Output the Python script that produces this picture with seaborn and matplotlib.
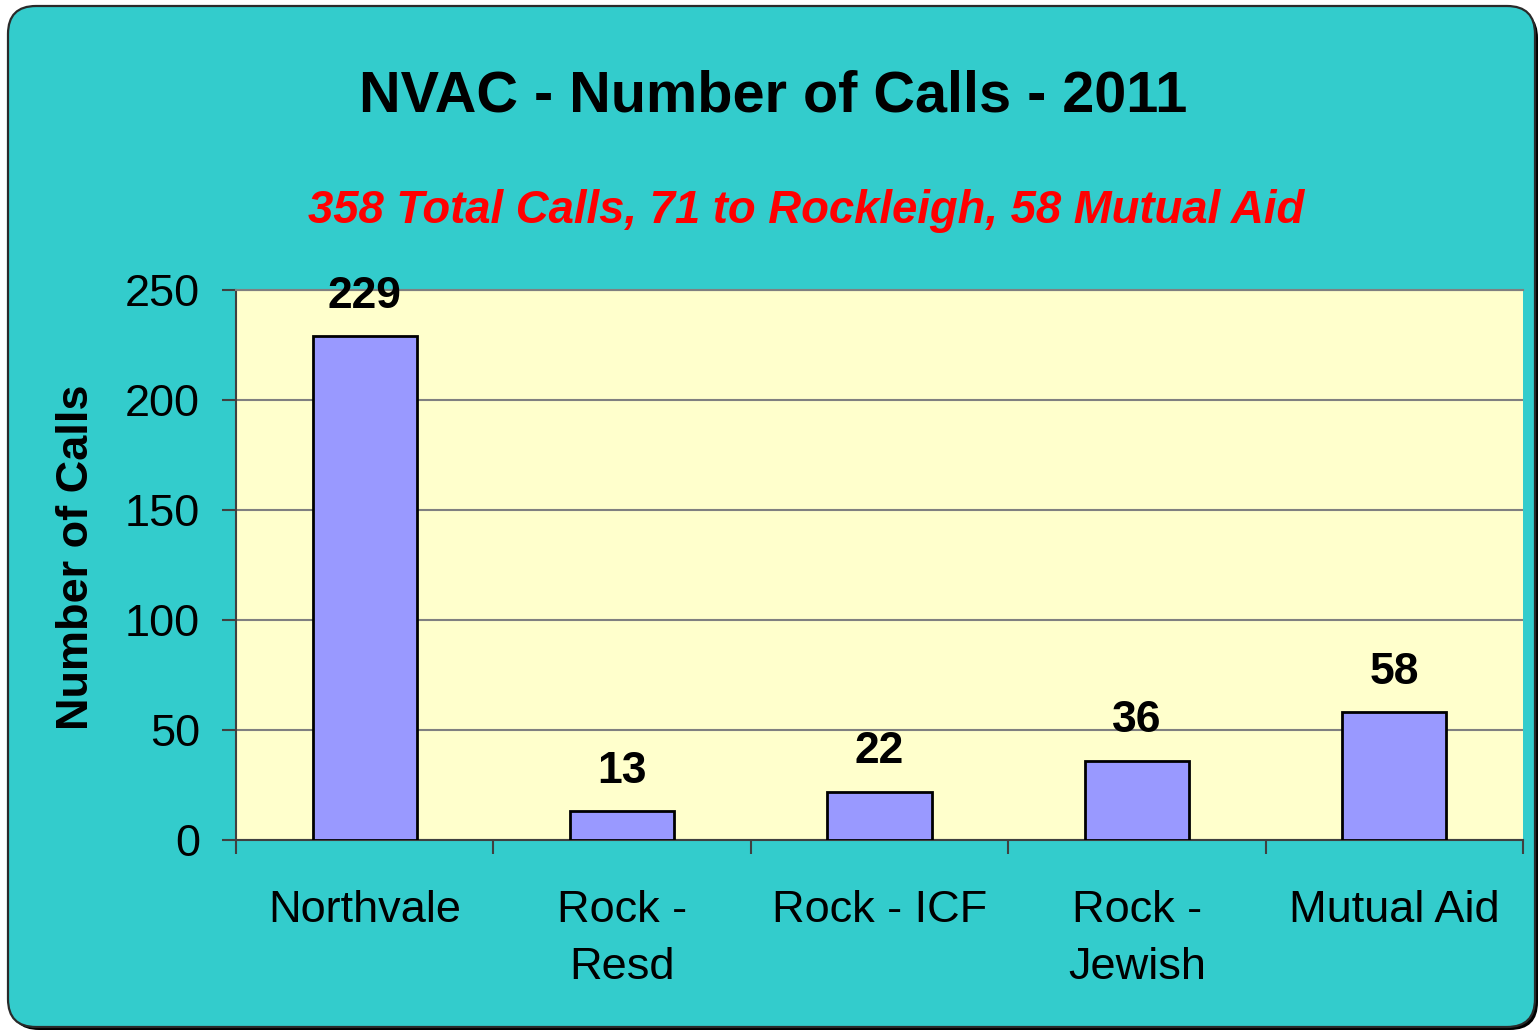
import numpy as np
import pandas as pd
import matplotlib
matplotlib.use("Agg")
import matplotlib.pyplot as plt
import seaborn as sns
from matplotlib.patches import FancyBboxPatch

categories = ["Northvale", "Rock -\nResd", "Rock - ICF", "Rock -\nJewish", "Mutual Aid"]
calls = [229, 13, 22, 36, 58]
y_ticks = [0, 50, 100, 150, 200, 250]

title = "NVAC - Number of Calls - 2011"
subtitle = "358 Total Calls, 71 to Rockleigh, 58 Mutual Aid"

df = pd.DataFrame({"Location": categories, "Calls": calls})

sns.set_style("white")
plt.rcParams["font.family"] = ["Liberation Sans", "DejaVu Sans"]
plt.rcParams["text.color"] = "black"
plt.rcParams["axes.labelcolor"] = "black"
plt.rcParams["xtick.color"] = "black"
plt.rcParams["ytick.color"] = "black"

fig = plt.figure(figsize=(15.4, 10.3), dpi=100)
fig.patch.set_facecolor("white")

# rounded teal panel behind everything (pixel coords)
shadow = FancyBboxPatch((11, 0), 1527, 1020, boxstyle="round,pad=0,rounding_size=28",
                        transform=None, facecolor="black", edgecolor="none", zorder=-2)
panel = FancyBboxPatch((8, 3), 1527, 1021, boxstyle="round,pad=0,rounding_size=28",
                       transform=None, facecolor="#33CCCC", edgecolor="#2a2a2a",
                       linewidth=1.6, zorder=-1)
fig.patches.extend([shadow, panel])

ax = fig.add_axes([236 / 1540, 1 - 840 / 1030, (1523 - 236) / 1540, (840 - 290) / 1030])
ax.set_facecolor("#FFFFCC")

sns.barplot(data=df, x="Location", y="Calls", color="#9999FF", width=0.405,
            edgecolor="black", linewidth=2, saturation=1, ax=ax, zorder=3)

ax.set_ylim(0, 250)
ax.set_xlim(-0.5, len(categories) - 0.5)
ax.set_yticks(y_ticks)
ax.set_yticklabels([str(v) for v in y_ticks], fontsize=32.5)
ax.yaxis.grid(True, color="#808080", linewidth=1.5, zorder=0)
ax.set_axisbelow(True)

ax.set_xticks(range(len(categories)))
ax.set_xticklabels(categories, fontsize=32.5, linespacing=1.5)
ax.set_xticks(np.arange(-0.5, len(categories)), minor=True)
ax.tick_params(axis="x", which="major", length=0, pad=36, bottom=True)
ax.tick_params(axis="x", which="minor", length=10, width=1.5, color="#404040",
               direction="out", bottom=True)
ax.tick_params(axis="y", length=10, width=1.5, color="#404040", labelcolor="black",
               direction="out", pad=16, left=True)

ax.spines["right"].set_visible(False)
ax.spines["top"].set_color("#808080")
ax.spines["top"].set_linewidth(1.5)
ax.spines["left"].set_color("#404040")
ax.spines["left"].set_linewidth(1.5)
ax.spines["bottom"].set_color("#404040")
ax.spines["bottom"].set_linewidth(1.5)

for i, v in enumerate(calls):
    ax.annotate(str(v), (i, v), xytext=(0, 14), textcoords="offset points",
                ha="center", va="bottom", fontsize=32, fontweight="bold",
                color="black", zorder=5)

ax.set_xlabel("")
ax.set_ylabel("Number of Calls", fontsize=32.5, fontweight="bold", color="black")
ax.yaxis.set_label_coords((97 - 236) / 1287, (840 - 557) / 550)

fig.text(773 / 1540, 1 - 96 / 1030, title, ha="center", va="center",
         fontsize=41.5, fontweight="bold", color="black")
fig.text(806 / 1540, 1 - 211 / 1030, subtitle, ha="center", va="center",
         fontsize=32.8, fontweight="bold", style="italic", color="#FF0000")

fig.savefig("out.png", dpi=100)
